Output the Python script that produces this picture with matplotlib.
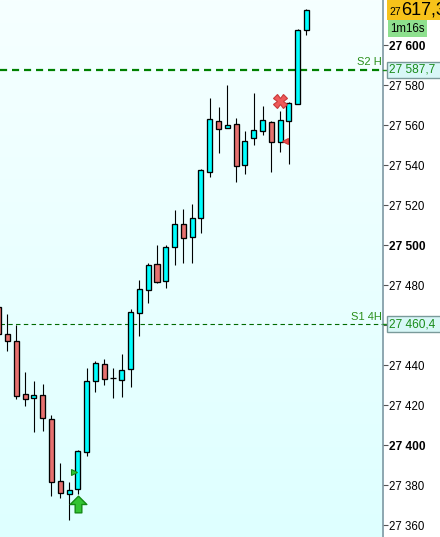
import numpy as np
import matplotlib
matplotlib.use("Agg")
import matplotlib.pyplot as plt
from matplotlib.path import Path

plt.rcParams['font.family'] = ['Liberation Sans', 'DejaVu Sans']

# ---- data ----
opens = [27469.2, 27455.4, 27452.0, 27425.4, 27423.7, 27424.9, 27413.0, 27381.9, 27375.4, 27377.9,
         27396.4, 27431.9, 27440.4, 27433.4, 27432.7, 27437.9, 27465.9, 27477.4, 27490.5, 27481.9,
         27499.2, 27510.4, 27504.2, 27513.4, 27536.4, 27561.9, 27558.4, 27560.4, 27539.9, 27553.4,
         27556.9, 27561.4, 27551.4, 27561.9, 27570.4, 27607.4]
closes = [27455.5, 27452.2, 27424.7, 27422.9, 27424.9, 27413.7, 27381.4, 27375.9, 27377.5, 27396.9,
          27431.9, 27440.9, 27433.2, 27433.3, 27437.4, 27466.4, 27477.9, 27490.0, 27481.4, 27499.0,
          27510.4, 27503.7, 27513.4, 27537.5, 27562.9, 27557.9, 27559.9, 27539.4, 27551.9, 27557.4,
          27562.4, 27551.4, 27562.4, 27570.9, 27607.4, 27617.3]
highs = [27470.0, 27465.5, 27460.0, 27436.5, 27432.0, 27430.5, 27414.9, 27391.0, 27381.5, 27397.5,
         27438.5, 27441.9, 27443.0, 27438.5, 27445.5, 27468.0, 27482.5, 27491.0, 27499.9, 27499.9,
         27517.5, 27518.0, 27520.5, 27538.0, 27573.5, 27569.0, 27580.0, 27563.5, 27556.9, 27576.0,
         27569.5, 27561.9, 27566.9, 27571.4, 27607.9, 27618.0]
lows = [27455.5, 27447.2, 27423.0, 27419.7, 27406.7, 27407.2, 27374.7, 27373.7, 27362.5, 27375.7,
        27394.7, 27426.7, 27430.0, 27423.7, 27424.2, 27429.2, 27454.7, 27471.2, 27480.9, 27478.4,
        27490.0, 27491.2, 27491.2, 27506.2, 27534.2, 27546.2, 27559.5, 27531.7, 27535.7, 27550.2,
        27554.9, 27536.7, 27546.7, 27540.7, 27570.4, 27605.2]

y_ticks = list(range(27360, 27601, 20))
level_s2 = 27587.7
level_s1 = 27460.4
level_s2_text = "27 587,7"
level_s1_text = "27 460,4"
last_price_big = "617,3"
last_price_small = "27"
timer_text = "1m16s"

buy_arrow = (9, 27370.5)
buy_tri = (8.55, 27386.4)
sell_x = (32.02, 27571.9)
sell_tri = (32.53, 27551.9)

# ---- figure ----
W, H = 440, 537
fig = plt.figure(figsize=(W / 100, H / 100), dpi=100)
fig.patch.set_facecolor('white')
ax_right_px = 383
ax = fig.add_axes([0, 0, ax_right_px / W, 1])

slot = 8.794
x0 = -1.3
xmin = (0 - x0) / slot
xmax = (ax_right_px - x0) / slot
ymax = 27622.5
ymin = 27354.0
ax.set_xlim(xmin, xmax)
ax.set_ylim(ymin, ymax)

# background gradient
grad = np.linspace(0, 1, 256).reshape(-1, 1)
top = np.array([246, 255, 255]) / 255
bot = np.array([222, 255, 255]) / 255
img = top[None, None, :] * (1 - grad[:, :, None]) + bot[None, None, :] * grad[:, :, None]
ax.imshow(img, extent=[xmin, xmax, ymin, ymax], aspect='auto', origin='upper', zorder=0)

idx = np.arange(len(opens))
o = np.array(opens); c = np.array(closes); h = np.array(highs); l = np.array(lows)
up = c >= o
ax.vlines(idx, l, h, color='black', lw=0.8, zorder=2)
body_w = 0.575
ax.bar(idx[up], (c - o)[up], bottom=o[up], width=body_w, color='#00ffff',
       edgecolor='black', lw=0.95, zorder=3)
ax.bar(idx[~up], (o - c)[~up], bottom=c[~up], width=body_w, color='#e6716f',
       edgecolor='black', lw=0.95, zorder=3)

# levels
ax.axhline(level_s2, color='#008000', lw=1.6, ls=(0, (3.2, 2.2)), zorder=1.5)
ax.axhline(level_s1, color='#006a00', lw=0.8, ls=(0, (4, 3)), zorder=1.5)
ax.text(xmax - 0.1, level_s2 + 1.2, 'S2 H', ha='right', va='bottom', fontsize=8, color='#2a8f1a')
ax.text(xmax - 0.1, level_s1 + 1.2, 'S1 4H', ha='right', va='bottom', fontsize=8, color='#2a8f1a')

# markers
arrow = Path([(0, 0.5), (0.5, 0.0), (0.2, 0.0), (0.2, -0.5), (-0.2, -0.5), (-0.2, 0.0),
              (-0.5, 0.0), (0, 0.5)], closed=True)
ax.plot([buy_arrow[0]], [buy_arrow[1]], marker=arrow, ms=12, mfc='#33c433', mec='#138a13',
        mew=1, ls='none', zorder=4)
ax.plot([buy_tri[0]], [buy_tri[1]], marker='>', ms=5, mfc='#33c433', mec='#138a13',
        mew=0.8, ls='none', zorder=4)
ax.plot([sell_x[0]], [sell_x[1]], marker='X', ms=9.5, mfc='#ee5a5a', mec='#c83a3a',
        mew=0.8, ls='none', zorder=4)
ax.plot([sell_tri[0]], [sell_tri[1]], marker='<', ms=5, mfc='#ee4a4a', mec='#c83a3a',
        mew=0.8, ls='none', zorder=4)

# axes styling
for s in ['top', 'left', 'bottom']:
    ax.spines[s].set_visible(False)
ax.spines['right'].set_color('#7f98a3')
ax.spines['right'].set_linewidth(1.2)
ax.set_xticks([])
ax.yaxis.tick_right()
ax.set_yticks(y_ticks)
ax.set_yticklabels([f"{v // 1000} {v % 1000:03d}" for v in y_ticks])
ax.tick_params(axis='y', length=3.3, width=0.8, color='#555555', pad=1.2, labelsize=8.3)
for lab, v in zip(ax.get_yticklabels(), y_ticks):
    if v % 100 == 0:
        lab.set_fontweight('bold')
        lab.set_fontsize(8.6)

# price labels on axis (figure coords)
def fy(price):
    return (price - ymin) / (ymax - ymin)

for lvl, txt in [(level_s2, level_s2_text), (level_s1, level_s1_text)]:
    yc = fy(lvl)
    fig.patches.append(plt.Rectangle((387 / W, yc - 8 / H), 60 / W, 16 / H,
                                     transform=fig.transFigure, fc='#d8f7f7', ec='#7a9a9a',
                                     lw=1, zorder=5))
    fig.lines.append(plt.Line2D([383 / W, 387 / W], [yc, yc], transform=fig.transFigure,
                                color='#1a8c1a', lw=1, zorder=5))
    fig.text(389 / W, yc, txt, ha='left', va='center', fontsize=8.6, color='#1a8c1a', zorder=6)

# last price label
fig.patches.append(plt.Rectangle((387 / W, 1 - 20 / H), 60 / W, 20 / H, transform=fig.transFigure,
                                 fc='#f7c21a', ec='none', zorder=5))
fig.text(389 / W, 1 - 12 / H, last_price_small, ha='left', va='center', fontsize=7.5,
         color='black', zorder=6)
fig.text(401 / W, 1 - 10 / H, last_price_big, ha='left', va='center', fontsize=13,
         color='black', zorder=6)
fig.text(390 / W, 1 - 28.5 / H, timer_text, ha='left', va='center', fontsize=8.3, color='black',
         bbox=dict(boxstyle='square,pad=0.2', fc='#8ee08e', ec='none'))

fig.savefig('out.png', dpi=100)
